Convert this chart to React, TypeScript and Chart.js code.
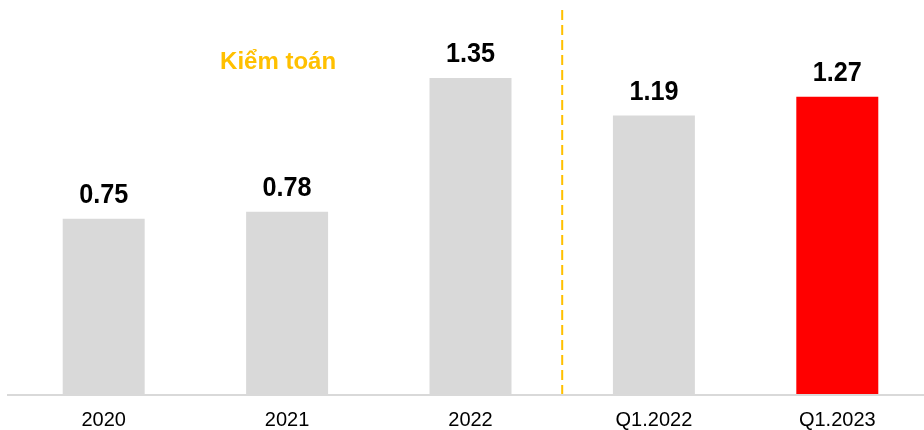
import React, { useEffect, useRef } from "react";
import { Chart, registerables } from "chart.js";

Chart.register(...registerables);

const categories = ["2020", "2021", "2022", "Q1.2022", "Q1.2023"];
const values = [0.75, 0.78, 1.35, 1.19, 1.27];
const barColors = ["#d9d9d9", "#d9d9d9", "#d9d9d9", "#d9d9d9", "#ff0000"];
const annotationText = "Kiểm toán";
const FONT = "'Liberation Sans', Arial, Helvetica, sans-serif";

const overlayPlugin = {
  id: "overlay",
  afterDatasetsDraw(chart: any) {
    const ctx = chart.ctx;
    const meta = chart.getDatasetMeta(0);
    const xs = chart.scales.x;
    const ys = chart.scales.y;
    ctx.save();
    // value labels
    ctx.fillStyle = "#000000";
    ctx.font = `bold 28px ${FONT}`;
    ctx.textAlign = "center";
    ctx.textBaseline = "alphabetic";
    meta.data.forEach((el: any, i: number) => {
      ctx.save();
      ctx.translate(el.x, el.y - 16);
      ctx.scale(0.9, 1);
      ctx.fillText(values[i].toFixed(2), 0, 0);
      ctx.restore();
    });
    // dashed separator between 2022 and Q1.2022
    const sepX = (xs.getPixelForValue(2) + xs.getPixelForValue(3)) / 2;
    ctx.strokeStyle = "#ffc000";
    ctx.lineWidth = 2;
    ctx.setLineDash([10, 5]);
    ctx.beginPath();
    ctx.moveTo(sepX, 10);
    ctx.lineTo(sepX, chart.chartArea.bottom);
    ctx.stroke();
    ctx.setLineDash([]);
    // annotation
    ctx.fillStyle = "#ffc000";
    ctx.font = `bold 24px ${FONT}`;
    ctx.textBaseline = "alphabetic";
    ctx.fillText(annotationText, xs.getPixelForValue(1) - 9, ys.getPixelForValue(1.39));
    // axis line
    ctx.strokeStyle = "#d9d9d9";
    ctx.lineWidth = 2;
    ctx.beginPath();
    ctx.moveTo(7, chart.chartArea.bottom);
    ctx.lineTo(chart.width, chart.chartArea.bottom);
    ctx.stroke();
    ctx.restore();
  },
};

export default function App() {
  const ref = useRef<HTMLCanvasElement | null>(null);
  useEffect(() => {
    if (!ref.current) return;
    const chart = new Chart(ref.current, {
      type: "bar",
      data: {
        labels: categories,
        datasets: [
          {
            data: values,
            backgroundColor: barColors,
            borderWidth: 0,
            barPercentage: 0.447,
            categoryPercentage: 1,
          },
        ],
      },
      options: {
        animation: false,
        responsive: false,
        maintainAspectRatio: false,
        layout: { padding: { left: 12, right: 0, top: 0, bottom: 0 } },
        plugins: { legend: { display: false }, tooltip: { enabled: false } },
        scales: {
          x: {
            grid: { display: false, drawTicks: false },
            border: { display: false },
            ticks: {
              color: "#000000",
              padding: 13,
              maxRotation: 0,
              font: { family: FONT, size: 20 },
            },
            afterFit: (s: any) => {
              s.height = 35;
            },
          },
          y: {
            display: false,
            min: 0,
            max: 1.682,
          },
        },
      },
      plugins: [overlayPlugin],
    });
    return () => chart.destroy();
  }, []);
  return (
    <div style={{ position: "fixed", left: 0, top: 0, width: 924, height: 430, overflow: "hidden", background: "#fff" }}>
      <canvas ref={ref} width={929} height={430} style={{ position: "absolute", left: 0, top: 0, width: 929, height: 430 }} />
    </div>
  );
}
